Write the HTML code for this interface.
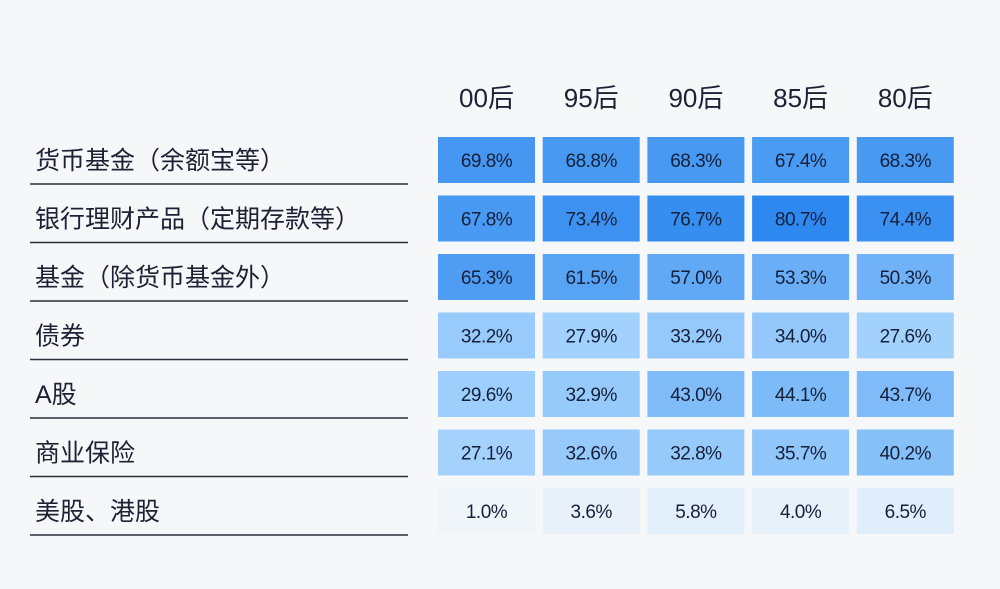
<!DOCTYPE html>
<html><head><meta charset="utf-8"><style>
body{margin:0;width:1000px;height:589px;background:#f6f7f9;font-family:"Liberation Sans","Noto Sans CJK SC",sans-serif;overflow:hidden}
svg{display:block}
</style></head><body>
<svg id="chart" width="1000" height="589"></svg>
<script>
const cols=["00后","95后","90后","85后","80后"];
const rows=["货币基金（余额宝等）","银行理财产品（定期存款等）","基金（除货币基金外）","债券","A股","商业保险","美股、港股"];
const r0=[69.8,68.8,68.3,67.4,68.3];
const r1=[67.8,73.4,76.7,80.7,74.4];
const r2=[65.3,61.5,57.0,53.3,50.3];
const r3=[32.2,27.9,33.2,34.0,27.6];
const r4=[29.6,32.9,43.0,44.1,43.7];
const r5=[27.1,32.6,32.8,35.7,40.2];
const r6=[1.0,3.6,5.8,4.0,6.5];
const values=[r0,r1,r2,r3,r4,r5,r6];
const NS="http://www.w3.org/2000/svg";
const svg=document.getElementById('chart');
const x0=438,xStep=104.7,cw=97,y0=137,yStep=58.5,ch=46;
const xPos=i=>x0+i*xStep, yPos=j=>y0+j*yStep;
function lerp(a,b,t){return a.map((v,i)=>Math.round(v+(b[i]-v)*t));}
function color(v){
  const lo=[243,246,250],mid=[160,208,252],hi=[44,136,239];
  const t=Math.max(0,Math.min(1,v/81));
  const c=t<0.35?lerp(lo,mid,t/0.35):lerp(mid,hi,(t-0.35)/0.65);
  return `rgb(${c[0]},${c[1]},${c[2]})`;
}
function mk(tag,attrs,txt){const e=document.createElementNS(NS,tag);for(const k in attrs)e.setAttribute(k,attrs[k]);if(txt!==undefined)e.textContent=txt;svg.appendChild(e);return e;}
cols.forEach((c,i)=>{
  const t=mk('text',{x:xPos(i)+cw/2,y:107,'text-anchor':'middle','font-size':26,fill:'#1c2233'},c);
  
  
});
rows.forEach((r,j)=>{
  const t=mk('text',{x:35,y:yPos(j)+32,'font-size':25,fill:'#1c2233'},r);
  
  
  const l=mk('line',{x1:30,x2:408,y1:yPos(j)+47,y2:yPos(j)+47,stroke:'#2a2f3a','stroke-width':1.5});
  
  
  values[j].forEach((v,i)=>{
    const rc=mk('rect',{x:xPos(i),y:yPos(j),width:cw,height:ch,fill:color(v)});
    
    
    const tx=mk('text',{x:xPos(i)+cw/2,y:yPos(j)+30,'text-anchor':'middle','font-size':19,fill:'#15203a','letter-spacing':'-0.5'},v.toFixed(1)+'%');
    
    
  });
});
</script>
</body></html>
